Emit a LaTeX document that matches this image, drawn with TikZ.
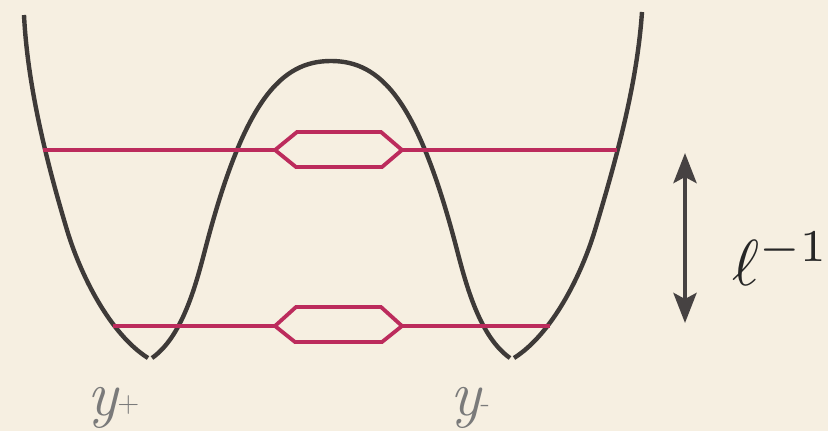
\documentclass[tikz,border=0pt]{standalone}
\usetikzlibrary{arrows.meta}
\definecolor{bg}{HTML}{F6EFE1}
\definecolor{curvecol}{HTML}{3E3A38}
\definecolor{mag}{HTML}{BC2B5C}
\definecolor{arrcol}{HTML}{464242}
\definecolor{labcol}{HTML}{7A7A7A}
\begin{document}
\begin{tikzpicture}[x=1pt,y=-1pt,
  pot/.style={draw=curvecol, line width=4.4pt},
  level/.style={draw=mag, line width=4.2pt},
  loopline/.style={draw=mag, line width=3.8pt, line join=miter},
  gap/.style={draw=arrcol, fill=arrcol, line width=4.4pt,
    >={Stealth[length=30pt,width=23pt,inset=6pt]}, <->},
  ylab/.style={anchor=base west, inner sep=0pt, text=labcol},
]
\fill[bg] (0,0) rectangle (828,431);
\useasboundingbox (0,0) rectangle (828,431);

% potential curve: left outer wall
\draw[pot] (24,15) .. controls (27.5,85) and (46,160) .. (67,230)
  .. controls (80.5,275) and (110,334) .. (148,358);
% central hump between the two minima
\draw[pot] (152,358) .. controls (182,337) and (195.6,286) .. (205,250)
  .. controls (244,100) and (281,61) .. (331,61)
  .. controls (381,61) and (418,100) .. (457,250)
  .. controls (466.4,286) and (480,337) .. (510,358);
% right outer wall
\draw[pot] (514,358) .. controls (552,334) and (581.5,275) .. (595,230)
  .. controls (616,160) and (637,85) .. (642,12);

% upper level
\coordinate (uA) at (43,150);
\coordinate (uL) at (275,150);
\coordinate (uTL) at (297,132);
\coordinate (uTR) at (381,132);
\coordinate (uR) at (402,150);
\coordinate (uBR) at (382,167);
\coordinate (uBL) at (296,167);
\coordinate (uB) at (617,150);
\draw[level] (uA) -- (uL);
\draw[level] (uR) -- (uB);
\draw[loopline] (uL) -- (uTL) -- (uTR) -- (uR) -- (uBR) -- (uBL) -- cycle;

% lower level
\coordinate (lA) at (113,326);
\coordinate (lL) at (275,326);
\coordinate (lTL) at (296,307);
\coordinate (lTR) at (381,307);
\coordinate (lR) at (402,326);
\coordinate (lBR) at (382,342);
\coordinate (lBL) at (295,342);
\coordinate (lB) at (550,326);
\draw[level] (lA) -- (lL);
\draw[level] (lR) -- (lB);
\draw[loopline] (lL) -- (lTL) -- (lTR) -- (lR) -- (lBR) -- (lBL) -- cycle;

% arrow
\coordinate (at) at (685,153);
\coordinate (ab) at (685,323);
\draw[gap] (at) -- (ab);

% labels
\node[anchor=base west, inner sep=0pt, text=black!85] (ell) at (732,285)
  {\scalebox{6.5}{$\ell^{-1}$}};
\node[ylab] (yplus) at (87,415)
  {\fontsize{64}{64}\selectfont\itshape y\fontsize{30}{30}\selectfont\upshape\raisebox{3pt}{+}};
\node[ylab] (yminus) at (450,415)
  {\fontsize{64}{64}\selectfont\itshape y\fontsize{30}{30}\selectfont\upshape\raisebox{3pt}{-}};
\end{tikzpicture}
\end{document}
